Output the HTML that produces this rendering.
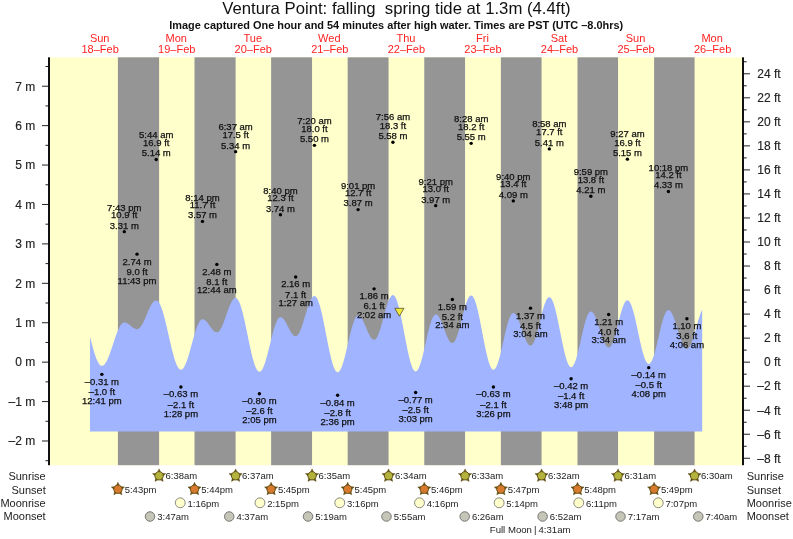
<!DOCTYPE html><html><head><meta charset="utf-8"><style>html,body{margin:0;padding:0;background:#fff;}svg{display:block;will-change:transform;}text{font-family:"Liberation Sans", sans-serif;}</style></head><body>
<svg width="793" height="539" viewBox="0 0 793 539">
<rect x="0" y="0" width="793" height="539" fill="#fff"/>
<text x="222.3" y="14.1" font-size="16.5" textLength="348.3" lengthAdjust="spacingAndGlyphs" fill="#111" xml:space="preserve">Ventura Point: falling  spring tide at 1.3m (4.4ft)</text>
<text x="169.2" y="28.7" font-size="10.3" font-weight="bold" textLength="454" lengthAdjust="spacingAndGlyphs" fill="#111">Image captured One hour and 54 minutes after high water. Times are PST (UTC –8.0hrs)</text>
<text transform="translate(99.67,41.5) scale(0.95,1)" font-size="11.6" text-anchor="middle" fill="#ff2222">Sun</text>
<text x="100.17" y="52.5" font-size="11" text-anchor="middle" fill="#ff2222">18–Feb</text>
<text transform="translate(176.22,41.5) scale(0.95,1)" font-size="11.6" text-anchor="middle" fill="#ff2222">Mon</text>
<text x="176.72" y="52.5" font-size="11" text-anchor="middle" fill="#ff2222">19–Feb</text>
<text transform="translate(252.78,41.5) scale(0.95,1)" font-size="11.6" text-anchor="middle" fill="#ff2222">Tue</text>
<text x="253.28" y="52.5" font-size="11" text-anchor="middle" fill="#ff2222">20–Feb</text>
<text transform="translate(329.33,41.5) scale(0.95,1)" font-size="11.6" text-anchor="middle" fill="#ff2222">Wed</text>
<text x="329.83" y="52.5" font-size="11" text-anchor="middle" fill="#ff2222">21–Feb</text>
<text transform="translate(405.89,41.5) scale(0.95,1)" font-size="11.6" text-anchor="middle" fill="#ff2222">Thu</text>
<text x="406.39" y="52.5" font-size="11" text-anchor="middle" fill="#ff2222">22–Feb</text>
<text transform="translate(482.44,41.5) scale(0.95,1)" font-size="11.6" text-anchor="middle" fill="#ff2222">Fri</text>
<text x="482.94" y="52.5" font-size="11" text-anchor="middle" fill="#ff2222">23–Feb</text>
<text transform="translate(559.00,41.5) scale(0.95,1)" font-size="11.6" text-anchor="middle" fill="#ff2222">Sat</text>
<text x="559.50" y="52.5" font-size="11" text-anchor="middle" fill="#ff2222">24–Feb</text>
<text transform="translate(635.55,41.5) scale(0.95,1)" font-size="11.6" text-anchor="middle" fill="#ff2222">Sun</text>
<text x="636.05" y="52.5" font-size="11" text-anchor="middle" fill="#ff2222">25–Feb</text>
<text transform="translate(712.11,41.5) scale(0.95,1)" font-size="11.6" text-anchor="middle" fill="#ff2222">Mon</text>
<text x="712.61" y="52.5" font-size="11" text-anchor="middle" fill="#ff2222">26–Feb</text>
<rect x="50" y="57.3" width="692" height="407.9" fill="#ffffcc"/>
<rect x="117.90" y="57.3" width="41.20" height="407.9" fill="#959595"/>
<rect x="194.51" y="57.3" width="41.10" height="407.9" fill="#959595"/>
<rect x="271.12" y="57.3" width="40.94" height="407.9" fill="#959595"/>
<rect x="347.67" y="57.3" width="40.88" height="407.9" fill="#959595"/>
<rect x="424.28" y="57.3" width="40.78" height="407.9" fill="#959595"/>
<rect x="500.89" y="57.3" width="40.67" height="407.9" fill="#959595"/>
<rect x="577.50" y="57.3" width="40.56" height="407.9" fill="#959595"/>
<rect x="654.11" y="57.3" width="40.46" height="407.9" fill="#959595"/>
<path d="M90.00,431.50L90.00,336.82L90.50,338.79L91.00,340.74L91.50,342.67L92.00,344.56L92.50,346.42L93.00,348.23L93.50,349.98L94.00,351.67L94.50,353.29L95.00,354.84L95.50,356.31L96.00,357.69L96.50,358.98L97.00,360.17L97.50,361.26L98.00,362.24L98.50,363.11L99.00,363.87L99.50,364.50L100.00,365.02L100.50,365.42L101.00,365.70L101.50,365.84L102.00,365.87L102.50,365.78L103.00,365.59L103.50,365.29L104.00,364.89L104.50,364.39L105.00,363.79L105.50,363.09L106.00,362.30L106.50,361.42L107.00,360.45L107.50,359.41L108.00,358.29L108.50,357.10L109.00,355.85L109.50,354.54L110.00,353.18L110.50,351.77L111.00,350.33L111.50,348.85L112.00,347.36L112.50,345.85L113.00,344.32L113.50,342.80L114.00,341.29L114.50,339.79L115.00,338.31L115.50,336.85L116.00,335.44L116.50,334.06L117.00,332.74L117.50,331.47L118.00,330.27L118.50,329.13L119.00,328.06L119.50,327.08L120.00,326.17L120.50,325.36L121.00,324.64L121.50,324.01L122.00,323.48L122.50,323.05L123.00,322.73L123.50,322.51L124.00,322.40L124.50,322.38L125.00,322.43L125.50,322.53L126.00,322.68L126.50,322.88L127.00,323.12L127.50,323.40L128.00,323.72L128.50,324.07L129.00,324.44L129.50,324.84L130.00,325.25L130.50,325.67L131.00,326.09L131.50,326.51L132.00,326.91L132.50,327.30L133.00,327.67L133.50,328.01L134.00,328.31L134.50,328.58L135.00,328.80L135.50,328.98L136.00,329.12L136.50,329.20L137.00,329.23L137.50,329.19L138.00,329.05L138.50,328.82L139.00,328.49L139.50,328.08L140.00,327.57L140.50,326.98L141.00,326.31L141.50,325.56L142.00,324.73L142.50,323.84L143.00,322.90L143.50,321.89L144.00,320.84L144.50,319.75L145.00,318.63L145.50,317.48L146.00,316.31L146.50,315.13L147.00,313.95L147.50,312.78L148.00,311.62L148.50,310.48L149.00,309.37L149.50,308.30L150.00,307.27L150.50,306.29L151.00,305.37L151.50,304.51L152.00,303.72L152.50,303.00L153.00,302.36L153.50,301.81L154.00,301.34L154.50,300.97L155.00,300.68L155.50,300.49L156.00,300.40L156.50,300.41L157.00,300.56L157.50,300.84L158.00,301.26L158.50,301.83L159.00,302.52L159.50,303.35L160.00,304.30L160.50,305.38L161.00,306.58L161.50,307.90L162.00,309.33L162.50,310.86L163.00,312.49L163.50,314.21L164.00,316.01L164.50,317.89L165.00,319.84L165.50,321.86L166.00,323.92L166.50,326.03L167.00,328.18L167.50,330.36L168.00,332.55L168.50,334.76L169.00,336.96L169.50,339.16L170.00,341.35L170.50,343.50L171.00,345.62L171.50,347.70L172.00,349.73L172.50,351.70L173.00,353.60L173.50,355.43L174.00,357.17L174.50,358.82L175.00,360.38L175.50,361.84L176.00,363.18L176.50,364.42L177.00,365.53L177.50,366.52L178.00,367.38L178.50,368.11L179.00,368.71L179.50,369.17L180.00,369.49L180.50,369.67L181.00,369.72L181.50,369.62L182.00,369.40L182.50,369.04L183.00,368.55L183.50,367.94L184.00,367.20L184.50,366.34L185.00,365.36L185.50,364.28L186.00,363.08L186.50,361.80L187.00,360.41L187.50,358.95L188.00,357.41L188.50,355.80L189.00,354.13L189.50,352.41L190.00,350.64L190.50,348.85L191.00,347.03L191.50,345.20L192.00,343.36L192.50,341.53L193.00,339.72L193.50,337.93L194.00,336.17L194.50,334.46L195.00,332.81L195.50,331.21L196.00,329.69L196.50,328.24L197.00,326.88L197.50,325.61L198.00,324.44L198.50,323.38L199.00,322.43L199.50,321.60L200.00,320.89L200.50,320.30L201.00,319.84L201.50,319.51L202.00,319.32L202.50,319.26L203.00,319.30L203.50,319.42L204.00,319.61L204.50,319.88L205.00,320.22L205.50,320.63L206.00,321.10L206.50,321.62L207.00,322.20L207.50,322.82L208.00,323.47L208.50,324.16L209.00,324.86L209.50,325.57L210.00,326.29L210.50,327.00L211.00,327.69L211.50,328.37L212.00,329.01L212.50,329.61L213.00,330.17L213.50,330.68L214.00,331.13L214.50,331.51L215.00,331.83L215.50,332.07L216.00,332.24L216.50,332.33L217.00,332.35L217.50,332.25L218.00,332.03L218.50,331.69L219.00,331.24L219.50,330.68L220.00,330.00L220.50,329.23L221.00,328.35L221.50,327.38L222.00,326.33L222.50,325.20L223.00,324.00L223.50,322.73L224.00,321.42L224.50,320.06L225.00,318.66L225.50,317.24L226.00,315.81L226.50,314.37L227.00,312.94L227.50,311.52L228.00,310.13L228.50,308.78L229.00,307.47L229.50,306.21L230.00,305.02L230.50,303.89L231.00,302.85L231.50,301.89L232.00,301.02L232.50,300.26L233.00,299.60L233.50,299.04L234.00,298.61L234.50,298.28L235.00,298.08L235.50,297.99L236.00,298.04L236.50,298.24L237.00,298.61L237.50,299.13L238.00,299.81L238.50,300.64L239.00,301.62L239.50,302.75L240.00,304.01L240.50,305.41L241.00,306.94L241.50,308.58L242.00,310.35L242.50,312.22L243.00,314.18L243.50,316.24L244.00,318.38L244.50,320.59L245.00,322.86L245.50,325.19L246.00,327.55L246.50,329.95L247.00,332.37L247.50,334.80L248.00,337.23L248.50,339.66L249.00,342.06L249.50,344.42L250.00,346.75L250.50,349.03L251.00,351.24L251.50,353.38L252.00,355.45L252.50,357.42L253.00,359.30L253.50,361.06L254.00,362.72L254.50,364.25L255.00,365.66L255.50,366.93L256.00,368.06L256.50,369.05L257.00,369.89L257.50,370.58L258.00,371.11L258.50,371.49L259.00,371.70L259.50,371.76L260.00,371.66L260.50,371.41L261.00,371.01L261.50,370.46L262.00,369.76L262.50,368.92L263.00,367.95L263.50,366.85L264.00,365.62L264.50,364.27L265.00,362.81L265.50,361.25L266.00,359.59L266.50,357.85L267.00,356.04L267.50,354.16L268.00,352.23L268.50,350.25L269.00,348.24L269.50,346.21L270.00,344.17L270.50,342.14L271.00,340.11L271.50,338.11L272.00,336.15L272.50,334.23L273.00,332.37L273.50,330.58L274.00,328.86L274.50,327.24L275.00,325.71L275.50,324.28L276.00,322.97L276.50,321.78L277.00,320.71L277.50,319.78L278.00,318.98L278.50,318.33L279.00,317.83L279.50,317.47L280.00,317.27L280.50,317.21L281.00,317.28L281.50,317.45L282.00,317.71L282.50,318.07L283.00,318.52L283.50,319.05L284.00,319.67L284.50,320.37L285.00,321.12L285.50,321.94L286.00,322.81L286.50,323.72L287.00,324.66L287.50,325.63L288.00,326.60L288.50,327.58L289.00,328.55L289.50,329.49L290.00,330.41L290.50,331.29L291.00,332.12L291.50,332.89L292.00,333.60L292.50,334.23L293.00,334.79L293.50,335.26L294.00,335.63L294.50,335.92L295.00,336.10L295.50,336.19L296.00,336.17L296.50,336.01L297.00,335.71L297.50,335.27L298.00,334.70L298.50,334.00L299.00,333.18L299.50,332.23L300.00,331.18L300.50,330.01L301.00,328.75L301.50,327.41L302.00,325.98L302.50,324.48L303.00,322.93L303.50,321.33L304.00,319.69L304.50,318.02L305.00,316.35L305.50,314.67L306.00,313.00L306.50,311.35L307.00,309.74L307.50,308.17L308.00,306.66L308.50,305.22L309.00,303.85L309.50,302.56L310.00,301.37L310.50,300.29L311.00,299.32L311.50,298.46L312.00,297.73L312.50,297.12L313.00,296.65L313.50,296.32L314.00,296.12L314.50,296.07L315.00,296.17L315.50,296.45L316.00,296.91L316.50,297.53L317.00,298.32L317.50,299.28L318.00,300.40L318.50,301.67L319.00,303.09L319.50,304.65L320.00,306.35L320.50,308.18L321.00,310.12L321.50,312.18L322.00,314.34L322.50,316.59L323.00,318.91L323.50,321.31L324.00,323.77L324.50,326.28L325.00,328.82L325.50,331.38L326.00,333.96L326.50,336.54L327.00,339.11L327.50,341.66L328.00,344.17L328.50,346.63L329.00,349.04L329.50,351.38L330.00,353.64L330.50,355.81L331.00,357.89L331.50,359.85L332.00,361.69L332.50,363.41L333.00,365.00L333.50,366.44L334.00,367.73L334.50,368.87L335.00,369.85L335.50,370.67L336.00,371.32L336.50,371.80L337.00,372.11L337.50,372.24L338.00,372.20L338.50,371.99L339.00,371.62L339.50,371.08L340.00,370.39L340.50,369.54L341.00,368.53L341.50,367.39L342.00,366.10L342.50,364.69L343.00,363.15L343.50,361.50L344.00,359.75L344.50,357.90L345.00,355.98L345.50,353.98L346.00,351.92L346.50,349.81L347.00,347.67L347.50,345.51L348.00,343.34L348.50,341.17L349.00,339.02L349.50,336.90L350.00,334.82L350.50,332.79L351.00,330.83L351.50,328.95L352.00,327.15L352.50,325.46L353.00,323.87L353.50,322.40L354.00,321.06L354.50,319.85L355.00,318.78L355.50,317.86L356.00,317.10L356.50,316.49L357.00,316.05L357.50,315.77L358.00,315.65L358.50,315.69L359.00,315.84L359.50,316.11L360.00,316.49L360.50,316.97L361.00,317.56L361.50,318.25L362.00,319.03L362.50,319.89L363.00,320.83L363.50,321.84L364.00,322.90L364.50,324.00L365.00,325.15L365.50,326.32L366.00,327.50L366.50,328.68L367.00,329.86L367.50,331.01L368.00,332.14L368.50,333.22L369.00,334.24L369.50,335.21L370.00,336.10L370.50,336.91L371.00,337.64L371.50,338.27L372.00,338.79L372.50,339.21L373.00,339.52L373.50,339.72L374.00,339.80L374.50,339.75L375.00,339.55L375.50,339.19L376.00,338.68L376.50,338.03L377.00,337.23L377.50,336.29L378.00,335.22L378.50,334.03L379.00,332.72L379.50,331.31L380.00,329.80L380.50,328.20L381.00,326.53L381.50,324.80L382.00,323.01L382.50,321.19L383.00,319.34L383.50,317.48L384.00,315.61L384.50,313.76L385.00,311.94L385.50,310.15L386.00,308.42L386.50,306.74L387.00,305.15L387.50,303.63L388.00,302.22L388.50,300.91L389.00,299.71L389.50,298.64L390.00,297.70L390.50,296.90L391.00,296.24L391.50,295.73L392.00,295.37L392.50,295.16L393.00,295.11L393.50,295.23L394.00,295.53L394.50,296.02L395.00,296.68L395.50,297.52L396.00,298.53L396.50,299.70L397.00,301.04L397.50,302.52L398.00,304.16L398.50,305.94L399.00,307.84L399.50,309.87L400.00,312.01L400.50,314.25L401.00,316.59L401.50,319.00L402.00,321.48L402.50,324.02L403.00,326.60L403.50,329.21L404.00,331.84L404.50,334.48L405.00,337.12L405.50,339.73L406.00,342.32L406.50,344.86L407.00,347.34L407.50,349.76L408.00,352.10L408.50,354.34L409.00,356.49L409.50,358.53L410.00,360.44L410.50,362.23L411.00,363.87L411.50,365.37L412.00,366.72L412.50,367.91L413.00,368.93L413.50,369.78L414.00,370.45L414.50,370.95L415.00,371.26L415.50,371.40L416.00,371.35L416.50,371.13L417.00,370.74L417.50,370.18L418.00,369.45L418.50,368.56L419.00,367.51L419.50,366.32L420.00,364.98L420.50,363.50L421.00,361.90L421.50,360.18L422.00,358.36L422.50,356.45L423.00,354.45L423.50,352.38L424.00,350.25L424.50,348.08L425.00,345.88L425.50,343.66L426.00,341.44L426.50,339.22L427.00,337.03L427.50,334.87L428.00,332.76L428.50,330.71L429.00,328.74L429.50,326.86L430.00,325.07L430.50,323.39L431.00,321.84L431.50,320.41L432.00,319.11L432.50,317.97L433.00,316.97L433.50,316.14L434.00,315.46L434.50,314.96L435.00,314.63L435.50,314.46L436.00,314.47L436.50,314.61L437.00,314.87L437.50,315.26L438.00,315.76L438.50,316.38L439.00,317.11L439.50,317.95L440.00,318.88L440.50,319.90L441.00,321.00L441.50,322.17L442.00,323.39L442.50,324.67L443.00,325.98L443.50,327.31L444.00,328.66L444.50,330.01L445.00,331.34L445.50,332.66L446.00,333.94L446.50,335.17L447.00,336.34L447.50,337.45L448.00,338.48L448.50,339.43L449.00,340.27L449.50,341.02L450.00,341.66L450.50,342.18L451.00,342.58L451.50,342.86L452.00,343.01L452.50,343.04L453.00,342.91L453.50,342.61L454.00,342.15L454.50,341.53L455.00,340.76L455.50,339.84L456.00,338.77L456.50,337.57L457.00,336.24L457.50,334.79L458.00,333.24L458.50,331.58L459.00,329.84L459.50,328.03L460.00,326.16L460.50,324.23L461.00,322.28L461.50,320.30L462.00,318.31L462.50,316.34L463.00,314.38L463.50,312.45L464.00,310.58L464.50,308.76L465.00,307.02L465.50,305.36L466.00,303.80L466.50,302.34L467.00,301.01L467.50,299.80L468.00,298.72L468.50,297.79L469.00,297.01L469.50,296.39L470.00,295.92L470.50,295.61L471.00,295.47L471.50,295.50L472.00,295.72L472.50,296.12L473.00,296.70L473.50,297.46L474.00,298.39L474.50,299.50L475.00,300.77L475.50,302.20L476.00,303.78L476.50,305.50L477.00,307.37L477.50,309.35L478.00,311.46L478.50,313.66L479.00,315.97L479.50,318.35L480.00,320.81L480.50,323.33L481.00,325.89L481.50,328.49L482.00,331.10L482.50,333.73L483.00,336.34L483.50,338.94L484.00,341.51L484.50,344.03L485.00,346.50L485.50,348.90L486.00,351.21L486.50,353.43L487.00,355.55L487.50,357.55L488.00,359.43L488.50,361.18L489.00,362.78L489.50,364.23L490.00,365.52L490.50,366.65L491.00,367.61L491.50,368.39L492.00,369.00L492.50,369.42L493.00,369.66L493.50,369.72L494.00,369.59L494.50,369.29L495.00,368.81L495.50,368.17L496.00,367.35L496.50,366.38L497.00,365.24L497.50,363.96L498.00,362.54L498.50,360.99L499.00,359.31L499.50,357.52L500.00,355.63L500.50,353.65L501.00,351.60L501.50,349.48L502.00,347.31L502.50,345.10L503.00,342.87L503.50,340.63L504.00,338.40L504.50,336.18L505.00,334.00L505.50,331.86L506.00,329.78L506.50,327.77L507.00,325.85L507.50,324.03L508.00,322.31L508.50,320.71L509.00,319.24L509.50,317.91L510.00,316.73L510.50,315.70L511.00,314.82L511.50,314.12L512.00,313.58L512.50,313.22L513.00,313.03L513.50,313.02L514.00,313.15L514.50,313.41L515.00,313.81L515.50,314.33L516.00,314.98L516.50,315.75L517.00,316.63L517.50,317.62L518.00,318.70L518.50,319.87L519.00,321.13L519.50,322.45L520.00,323.82L520.50,325.25L521.00,326.70L521.50,328.18L522.00,329.67L522.50,331.16L523.00,332.63L523.50,334.08L524.00,335.48L524.50,336.83L525.00,338.13L525.50,339.34L526.00,340.48L526.50,341.52L527.00,342.47L527.50,343.30L528.00,344.02L528.50,344.61L529.00,345.08L529.50,345.42L530.00,345.62L530.50,345.69L531.00,345.61L531.50,345.35L532.00,344.94L532.50,344.35L533.00,343.61L533.50,342.71L534.00,341.67L534.50,340.48L535.00,339.17L535.50,337.72L536.00,336.17L536.50,334.51L537.00,332.76L537.50,330.93L538.00,329.04L538.50,327.09L539.00,325.10L539.50,323.09L540.00,321.07L540.50,319.04L541.00,317.04L541.50,315.06L542.00,313.13L542.50,311.26L543.00,309.46L543.50,307.74L544.00,306.11L544.50,304.60L545.00,303.20L545.50,301.92L546.00,300.79L546.50,299.79L547.00,298.95L547.50,298.26L548.00,297.74L548.50,297.38L549.00,297.18L549.50,297.16L550.00,297.31L550.50,297.65L551.00,298.16L551.50,298.86L552.00,299.72L552.50,300.75L553.00,301.95L553.50,303.30L554.00,304.81L554.50,306.45L555.00,308.23L555.50,310.13L556.00,312.15L556.50,314.27L557.00,316.49L557.50,318.78L558.00,321.15L558.50,323.57L559.00,326.04L559.50,328.54L560.00,331.05L560.50,333.58L561.00,336.09L561.50,338.59L562.00,341.05L562.50,343.47L563.00,345.83L563.50,348.11L564.00,350.32L564.50,352.43L565.00,354.43L565.50,356.32L566.00,358.08L566.50,359.71L567.00,361.20L567.50,362.54L568.00,363.71L568.50,364.73L569.00,365.57L569.50,366.25L570.00,366.74L570.50,367.06L571.00,367.19L571.50,367.15L572.00,366.92L572.50,366.53L573.00,365.96L573.50,365.22L574.00,364.32L574.50,363.26L575.00,362.05L575.50,360.70L576.00,359.21L576.50,357.59L577.00,355.86L577.50,354.03L578.00,352.10L578.50,350.09L579.00,348.02L579.50,345.89L580.00,343.71L580.50,341.51L581.00,339.30L581.50,337.09L582.00,334.89L582.50,332.72L583.00,330.59L583.50,328.52L584.00,326.52L584.50,324.60L585.00,322.77L585.50,321.05L586.00,319.44L586.50,317.96L587.00,316.62L587.50,315.42L588.00,314.37L588.50,313.48L589.00,312.76L589.50,312.20L590.00,311.82L590.50,311.61L591.00,311.57L591.50,311.69L592.00,311.94L592.50,312.33L593.00,312.85L593.50,313.51L594.00,314.29L594.50,315.19L595.00,316.20L595.50,317.31L596.00,318.52L596.50,319.82L597.00,321.19L597.50,322.63L598.00,324.12L598.50,325.65L599.00,327.22L599.50,328.80L600.00,330.39L600.50,331.97L601.00,333.53L601.50,335.07L602.00,336.56L602.50,338.00L603.00,339.37L603.50,340.66L604.00,341.87L604.50,342.99L605.00,344.00L605.50,344.89L606.00,345.67L606.50,346.33L607.00,346.85L607.50,347.24L608.00,347.49L608.50,347.60L609.00,347.57L609.50,347.37L610.00,347.01L610.50,346.49L611.00,345.81L611.50,344.97L612.00,343.99L612.50,342.87L613.00,341.62L613.50,340.24L614.00,338.75L614.50,337.15L615.00,335.46L615.50,333.69L616.00,331.86L616.50,329.96L617.00,328.03L617.50,326.06L618.00,324.09L618.50,322.11L619.00,320.14L619.50,318.20L620.00,316.30L620.50,314.45L621.00,312.67L621.50,310.97L622.00,309.36L622.50,307.86L623.00,306.46L623.50,305.19L624.00,304.05L624.50,303.04L625.00,302.19L625.50,301.48L626.00,300.94L626.50,300.55L627.00,300.33L627.50,300.27L628.00,300.39L628.50,300.67L629.00,301.13L629.50,301.75L630.00,302.54L630.50,303.49L631.00,304.59L631.50,305.84L632.00,307.24L632.50,308.77L633.00,310.42L633.50,312.20L634.00,314.08L634.50,316.06L635.00,318.12L635.50,320.26L636.00,322.47L636.50,324.72L637.00,327.02L637.50,329.34L638.00,331.68L638.50,334.02L639.00,336.35L639.50,338.66L640.00,340.93L640.50,343.15L641.00,345.31L641.50,347.40L642.00,349.41L642.50,351.32L643.00,353.13L643.50,354.82L644.00,356.39L644.50,357.83L645.00,359.13L645.50,360.28L646.00,361.28L646.50,362.12L647.00,362.79L647.50,363.30L648.00,363.64L648.50,363.81L649.00,363.81L649.50,363.63L650.00,363.29L650.50,362.78L651.00,362.10L651.50,361.26L652.00,360.27L652.50,359.13L653.00,357.85L653.50,356.43L654.00,354.90L654.50,353.24L655.00,351.49L655.50,349.64L656.00,347.71L656.50,345.71L657.00,343.66L657.50,341.56L658.00,339.44L658.50,337.29L659.00,335.15L659.50,333.02L660.00,330.91L660.50,328.85L661.00,326.83L661.50,324.88L662.00,323.01L662.50,321.22L663.00,319.54L663.50,317.96L664.00,316.51L664.50,315.19L665.00,314.01L665.50,312.97L666.00,312.09L666.50,311.36L667.00,310.80L667.50,310.41L668.00,310.18L668.50,310.13L669.00,310.22L669.50,310.46L670.00,310.83L670.50,311.33L671.00,311.97L671.50,312.74L672.00,313.62L672.50,314.62L673.00,315.73L673.50,316.93L674.00,318.23L674.50,319.61L675.00,321.06L675.50,322.57L676.00,324.13L676.50,325.73L677.00,327.36L677.50,329.00L678.00,330.65L678.50,332.29L679.00,333.91L679.50,335.50L680.00,337.04L680.50,338.53L681.00,339.96L681.50,341.31L682.00,342.57L682.50,343.74L683.00,344.81L683.50,345.77L684.00,346.61L684.50,347.33L685.00,347.92L685.50,348.38L686.00,348.70L686.50,348.89L687.00,348.93L687.50,348.83L688.00,348.57L688.50,348.17L689.00,347.61L689.50,346.92L690.00,346.09L690.50,345.12L691.00,344.03L691.50,342.83L692.00,341.51L692.50,340.10L693.00,338.60L693.50,337.02L694.00,335.37L694.50,333.67L695.00,331.93L695.50,330.15L696.00,328.36L696.50,326.57L697.00,324.78L697.50,323.02L698.00,321.29L698.50,319.60L699.00,317.98L699.50,316.43L700.00,314.95L700.50,313.57L701.00,312.30L701.50,311.13L702.00,310.09L702.20,309.70L702.20,431.50Z" fill="#a0b4ff"/>
<rect x="48" y="57.3" width="2" height="407.9" fill="#111"/>
<rect x="742" y="57.3" width="2" height="407.9" fill="#111"/>
<rect x="45.5" y="66.00" width="2.5" height="1" fill="#222"/>
<rect x="42" y="85.71" width="6" height="1" fill="#222"/>
<text x="35.3" y="90.51" font-size="12" text-anchor="end" fill="#222" stroke="#222" stroke-width="0.15">7 m</text>
<rect x="45.5" y="105.42" width="2.5" height="1" fill="#222"/>
<rect x="42" y="125.13" width="6" height="1" fill="#222"/>
<text x="35.3" y="129.93" font-size="12" text-anchor="end" fill="#222" stroke="#222" stroke-width="0.15">6 m</text>
<rect x="45.5" y="144.84" width="2.5" height="1" fill="#222"/>
<rect x="42" y="164.55" width="6" height="1" fill="#222"/>
<text x="35.3" y="169.35" font-size="12" text-anchor="end" fill="#222" stroke="#222" stroke-width="0.15">5 m</text>
<rect x="45.5" y="184.26" width="2.5" height="1" fill="#222"/>
<rect x="42" y="203.97" width="6" height="1" fill="#222"/>
<text x="35.3" y="208.77" font-size="12" text-anchor="end" fill="#222" stroke="#222" stroke-width="0.15">4 m</text>
<rect x="45.5" y="223.68" width="2.5" height="1" fill="#222"/>
<rect x="42" y="243.39" width="6" height="1" fill="#222"/>
<text x="35.3" y="248.19" font-size="12" text-anchor="end" fill="#222" stroke="#222" stroke-width="0.15">3 m</text>
<rect x="45.5" y="263.10" width="2.5" height="1" fill="#222"/>
<rect x="42" y="282.81" width="6" height="1" fill="#222"/>
<text x="35.3" y="287.61" font-size="12" text-anchor="end" fill="#222" stroke="#222" stroke-width="0.15">2 m</text>
<rect x="45.5" y="302.52" width="2.5" height="1" fill="#222"/>
<rect x="42" y="322.23" width="6" height="1" fill="#222"/>
<text x="35.3" y="327.03" font-size="12" text-anchor="end" fill="#222" stroke="#222" stroke-width="0.15">1 m</text>
<rect x="45.5" y="341.94" width="2.5" height="1" fill="#222"/>
<rect x="42" y="361.65" width="6" height="1" fill="#222"/>
<text x="35.3" y="366.45" font-size="12" text-anchor="end" fill="#222" stroke="#222" stroke-width="0.15">0 m</text>
<rect x="45.5" y="381.36" width="2.5" height="1" fill="#222"/>
<rect x="42" y="401.07" width="6" height="1" fill="#222"/>
<text x="35.3" y="405.87" font-size="12" text-anchor="end" fill="#222" stroke="#222" stroke-width="0.15">–1 m</text>
<rect x="45.5" y="420.78" width="2.5" height="1" fill="#222"/>
<rect x="42" y="440.49" width="6" height="1" fill="#222"/>
<text x="35.3" y="445.29" font-size="12" text-anchor="end" fill="#222" stroke="#222" stroke-width="0.15">–2 m</text>
<rect x="45.5" y="460.20" width="2.5" height="1" fill="#222"/>
<rect x="744" y="457.77" width="6" height="1" fill="#222"/>
<text x="780.7" y="462.57" font-size="12" text-anchor="end" fill="#222" stroke="#222" stroke-width="0.15">–8 ft</text>
<rect x="744" y="445.76" width="2.7" height="1" fill="#222"/>
<rect x="744" y="433.74" width="6" height="1" fill="#222"/>
<text x="780.7" y="438.54" font-size="12" text-anchor="end" fill="#222" stroke="#222" stroke-width="0.15">–6 ft</text>
<rect x="744" y="421.73" width="2.7" height="1" fill="#222"/>
<rect x="744" y="409.71" width="6" height="1" fill="#222"/>
<text x="780.7" y="414.51" font-size="12" text-anchor="end" fill="#222" stroke="#222" stroke-width="0.15">–4 ft</text>
<rect x="744" y="397.70" width="2.7" height="1" fill="#222"/>
<rect x="744" y="385.68" width="6" height="1" fill="#222"/>
<text x="780.7" y="390.48" font-size="12" text-anchor="end" fill="#222" stroke="#222" stroke-width="0.15">–2 ft</text>
<rect x="744" y="373.67" width="2.7" height="1" fill="#222"/>
<rect x="744" y="361.65" width="6" height="1" fill="#222"/>
<text x="780.7" y="366.45" font-size="12" text-anchor="end" fill="#222" stroke="#222" stroke-width="0.15">0 ft</text>
<rect x="744" y="349.63" width="2.7" height="1" fill="#222"/>
<rect x="744" y="337.62" width="6" height="1" fill="#222"/>
<text x="780.7" y="342.42" font-size="12" text-anchor="end" fill="#222" stroke="#222" stroke-width="0.15">2 ft</text>
<rect x="744" y="325.60" width="2.7" height="1" fill="#222"/>
<rect x="744" y="313.59" width="6" height="1" fill="#222"/>
<text x="780.7" y="318.39" font-size="12" text-anchor="end" fill="#222" stroke="#222" stroke-width="0.15">4 ft</text>
<rect x="744" y="301.57" width="2.7" height="1" fill="#222"/>
<rect x="744" y="289.56" width="6" height="1" fill="#222"/>
<text x="780.7" y="294.36" font-size="12" text-anchor="end" fill="#222" stroke="#222" stroke-width="0.15">6 ft</text>
<rect x="744" y="277.54" width="2.7" height="1" fill="#222"/>
<rect x="744" y="265.53" width="6" height="1" fill="#222"/>
<text x="780.7" y="270.33" font-size="12" text-anchor="end" fill="#222" stroke="#222" stroke-width="0.15">8 ft</text>
<rect x="744" y="253.51" width="2.7" height="1" fill="#222"/>
<rect x="744" y="241.50" width="6" height="1" fill="#222"/>
<text x="780.7" y="246.30" font-size="12" text-anchor="end" fill="#222" stroke="#222" stroke-width="0.15">10 ft</text>
<rect x="744" y="229.48" width="2.7" height="1" fill="#222"/>
<rect x="744" y="217.47" width="6" height="1" fill="#222"/>
<text x="780.7" y="222.27" font-size="12" text-anchor="end" fill="#222" stroke="#222" stroke-width="0.15">12 ft</text>
<rect x="744" y="205.45" width="2.7" height="1" fill="#222"/>
<rect x="744" y="193.43" width="6" height="1" fill="#222"/>
<text x="780.7" y="198.23" font-size="12" text-anchor="end" fill="#222" stroke="#222" stroke-width="0.15">14 ft</text>
<rect x="744" y="181.42" width="2.7" height="1" fill="#222"/>
<rect x="744" y="169.40" width="6" height="1" fill="#222"/>
<text x="780.7" y="174.20" font-size="12" text-anchor="end" fill="#222" stroke="#222" stroke-width="0.15">16 ft</text>
<rect x="744" y="157.39" width="2.7" height="1" fill="#222"/>
<rect x="744" y="145.37" width="6" height="1" fill="#222"/>
<text x="780.7" y="150.17" font-size="12" text-anchor="end" fill="#222" stroke="#222" stroke-width="0.15">18 ft</text>
<rect x="744" y="133.36" width="2.7" height="1" fill="#222"/>
<rect x="744" y="121.34" width="6" height="1" fill="#222"/>
<text x="780.7" y="126.14" font-size="12" text-anchor="end" fill="#222" stroke="#222" stroke-width="0.15">20 ft</text>
<rect x="744" y="109.33" width="2.7" height="1" fill="#222"/>
<rect x="744" y="97.31" width="6" height="1" fill="#222"/>
<text x="780.7" y="102.11" font-size="12" text-anchor="end" fill="#222" stroke="#222" stroke-width="0.15">22 ft</text>
<rect x="744" y="85.30" width="2.7" height="1" fill="#222"/>
<rect x="744" y="73.28" width="6" height="1" fill="#222"/>
<text x="780.7" y="78.08" font-size="12" text-anchor="end" fill="#222" stroke="#222" stroke-width="0.15">24 ft</text>
<rect x="744" y="61.27" width="2.7" height="1" fill="#222"/>
<circle cx="101.85" cy="374.37" r="1.7" fill="#000"/>
<text x="101.85" y="384.77" font-size="9.5" text-anchor="middle" fill="#111111" stroke="#111111" stroke-width="0.25">–0.31 m</text>
<text x="101.85" y="394.97" font-size="9.5" text-anchor="middle" fill="#111111" stroke="#111111" stroke-width="0.25">–1.0 ft</text>
<text x="101.85" y="404.07" font-size="9.5" text-anchor="middle" fill="#111111" stroke="#111111" stroke-width="0.25">12:41 pm</text>
<circle cx="124.28" cy="231.67" r="1.7" fill="#000"/>
<text x="124.28" y="210.87" font-size="9.5" text-anchor="middle" fill="#111111" stroke="#111111" stroke-width="0.25">7:43 pm</text>
<text x="124.28" y="218.07" font-size="9.5" text-anchor="middle" fill="#111111" stroke="#111111" stroke-width="0.25">10.9 ft</text>
<text x="124.28" y="228.57" font-size="9.5" text-anchor="middle" fill="#111111" stroke="#111111" stroke-width="0.25">3.31 m</text>
<circle cx="137.04" cy="254.14" r="1.7" fill="#000"/>
<text x="137.04" y="264.54" font-size="9.5" text-anchor="middle" fill="#111111" stroke="#111111" stroke-width="0.25">2.74 m</text>
<text x="137.04" y="274.74" font-size="9.5" text-anchor="middle" fill="#111111" stroke="#111111" stroke-width="0.25">9.0 ft</text>
<text x="137.04" y="283.84" font-size="9.5" text-anchor="middle" fill="#111111" stroke="#111111" stroke-width="0.25">11:43 pm</text>
<circle cx="156.23" cy="159.53" r="1.7" fill="#000"/>
<text x="156.23" y="137.73" font-size="9.5" text-anchor="middle" fill="#111111" stroke="#111111" stroke-width="0.25">5:44 am</text>
<text x="156.23" y="145.93" font-size="9.5" text-anchor="middle" fill="#111111" stroke="#111111" stroke-width="0.25">16.9 ft</text>
<text x="156.23" y="156.43" font-size="9.5" text-anchor="middle" fill="#111111" stroke="#111111" stroke-width="0.25">5.14 m</text>
<circle cx="180.90" cy="386.98" r="1.7" fill="#000"/>
<text x="180.90" y="397.38" font-size="9.5" text-anchor="middle" fill="#111111" stroke="#111111" stroke-width="0.25">–0.63 m</text>
<text x="180.90" y="407.58" font-size="9.5" text-anchor="middle" fill="#111111" stroke="#111111" stroke-width="0.25">–2.1 ft</text>
<text x="180.90" y="416.68" font-size="9.5" text-anchor="middle" fill="#111111" stroke="#111111" stroke-width="0.25">1:28 pm</text>
<circle cx="202.49" cy="221.42" r="1.7" fill="#000"/>
<text x="202.49" y="200.62" font-size="9.5" text-anchor="middle" fill="#111111" stroke="#111111" stroke-width="0.25">8:14 pm</text>
<text x="202.49" y="207.82" font-size="9.5" text-anchor="middle" fill="#111111" stroke="#111111" stroke-width="0.25">11.7 ft</text>
<text x="202.49" y="218.32" font-size="9.5" text-anchor="middle" fill="#111111" stroke="#111111" stroke-width="0.25">3.57 m</text>
<circle cx="216.84" cy="264.39" r="1.7" fill="#000"/>
<text x="216.84" y="274.79" font-size="9.5" text-anchor="middle" fill="#111111" stroke="#111111" stroke-width="0.25">2.48 m</text>
<text x="216.84" y="284.99" font-size="9.5" text-anchor="middle" fill="#111111" stroke="#111111" stroke-width="0.25">8.1 ft</text>
<text x="216.84" y="293.19" font-size="9.5" text-anchor="middle" fill="#111111" stroke="#111111" stroke-width="0.25">12:44 am</text>
<circle cx="235.61" cy="151.65" r="1.7" fill="#000"/>
<text x="235.61" y="129.85" font-size="9.5" text-anchor="middle" fill="#111111" stroke="#111111" stroke-width="0.25">6:37 am</text>
<text x="235.61" y="138.05" font-size="9.5" text-anchor="middle" fill="#111111" stroke="#111111" stroke-width="0.25">17.5 ft</text>
<text x="235.61" y="148.55" font-size="9.5" text-anchor="middle" fill="#111111" stroke="#111111" stroke-width="0.25">5.34 m</text>
<circle cx="259.42" cy="393.69" r="1.7" fill="#000"/>
<text x="259.42" y="404.09" font-size="9.5" text-anchor="middle" fill="#111111" stroke="#111111" stroke-width="0.25">–0.80 m</text>
<text x="259.42" y="414.29" font-size="9.5" text-anchor="middle" fill="#111111" stroke="#111111" stroke-width="0.25">–2.6 ft</text>
<text x="259.42" y="423.39" font-size="9.5" text-anchor="middle" fill="#111111" stroke="#111111" stroke-width="0.25">2:05 pm</text>
<circle cx="280.42" cy="214.72" r="1.7" fill="#000"/>
<text x="280.42" y="193.92" font-size="9.5" text-anchor="middle" fill="#111111" stroke="#111111" stroke-width="0.25">8:40 pm</text>
<text x="280.42" y="201.12" font-size="9.5" text-anchor="middle" fill="#111111" stroke="#111111" stroke-width="0.25">12.3 ft</text>
<text x="280.42" y="211.62" font-size="9.5" text-anchor="middle" fill="#111111" stroke="#111111" stroke-width="0.25">3.74 m</text>
<circle cx="295.68" cy="277.00" r="1.7" fill="#000"/>
<text x="295.68" y="287.40" font-size="9.5" text-anchor="middle" fill="#111111" stroke="#111111" stroke-width="0.25">2.16 m</text>
<text x="295.68" y="297.60" font-size="9.5" text-anchor="middle" fill="#111111" stroke="#111111" stroke-width="0.25">7.1 ft</text>
<text x="295.68" y="305.80" font-size="9.5" text-anchor="middle" fill="#111111" stroke="#111111" stroke-width="0.25">1:27 am</text>
<circle cx="314.45" cy="145.34" r="1.7" fill="#000"/>
<text x="314.45" y="123.54" font-size="9.5" text-anchor="middle" fill="#111111" stroke="#111111" stroke-width="0.25">7:20 am</text>
<text x="314.45" y="131.74" font-size="9.5" text-anchor="middle" fill="#111111" stroke="#111111" stroke-width="0.25">18.0 ft</text>
<text x="314.45" y="142.24" font-size="9.5" text-anchor="middle" fill="#111111" stroke="#111111" stroke-width="0.25">5.50 m</text>
<circle cx="337.63" cy="395.26" r="1.7" fill="#000"/>
<text x="337.63" y="405.66" font-size="9.5" text-anchor="middle" fill="#111111" stroke="#111111" stroke-width="0.25">–0.84 m</text>
<text x="337.63" y="415.86" font-size="9.5" text-anchor="middle" fill="#111111" stroke="#111111" stroke-width="0.25">–2.8 ft</text>
<text x="337.63" y="424.96" font-size="9.5" text-anchor="middle" fill="#111111" stroke="#111111" stroke-width="0.25">2:36 pm</text>
<circle cx="358.09" cy="209.59" r="1.7" fill="#000"/>
<text x="358.09" y="188.79" font-size="9.5" text-anchor="middle" fill="#111111" stroke="#111111" stroke-width="0.25">9:01 pm</text>
<text x="358.09" y="195.99" font-size="9.5" text-anchor="middle" fill="#111111" stroke="#111111" stroke-width="0.25">12.7 ft</text>
<text x="358.09" y="206.49" font-size="9.5" text-anchor="middle" fill="#111111" stroke="#111111" stroke-width="0.25">3.87 m</text>
<circle cx="374.10" cy="288.83" r="1.7" fill="#000"/>
<text x="374.10" y="299.23" font-size="9.5" text-anchor="middle" fill="#111111" stroke="#111111" stroke-width="0.25">1.86 m</text>
<text x="374.10" y="309.43" font-size="9.5" text-anchor="middle" fill="#111111" stroke="#111111" stroke-width="0.25">6.1 ft</text>
<text x="374.10" y="317.63" font-size="9.5" text-anchor="middle" fill="#111111" stroke="#111111" stroke-width="0.25">2:02 am</text>
<circle cx="392.92" cy="142.19" r="1.7" fill="#000"/>
<text x="392.92" y="120.39" font-size="9.5" text-anchor="middle" fill="#111111" stroke="#111111" stroke-width="0.25">7:56 am</text>
<text x="392.92" y="128.59" font-size="9.5" text-anchor="middle" fill="#111111" stroke="#111111" stroke-width="0.25">18.3 ft</text>
<text x="392.92" y="139.09" font-size="9.5" text-anchor="middle" fill="#111111" stroke="#111111" stroke-width="0.25">5.58 m</text>
<circle cx="415.62" cy="392.50" r="1.7" fill="#000"/>
<text x="415.62" y="402.90" font-size="9.5" text-anchor="middle" fill="#111111" stroke="#111111" stroke-width="0.25">–0.77 m</text>
<text x="415.62" y="413.10" font-size="9.5" text-anchor="middle" fill="#111111" stroke="#111111" stroke-width="0.25">–2.5 ft</text>
<text x="415.62" y="422.20" font-size="9.5" text-anchor="middle" fill="#111111" stroke="#111111" stroke-width="0.25">3:03 pm</text>
<circle cx="435.71" cy="205.65" r="1.7" fill="#000"/>
<text x="435.71" y="184.85" font-size="9.5" text-anchor="middle" fill="#111111" stroke="#111111" stroke-width="0.25">9:21 pm</text>
<text x="435.71" y="192.05" font-size="9.5" text-anchor="middle" fill="#111111" stroke="#111111" stroke-width="0.25">13.0 ft</text>
<text x="435.71" y="202.55" font-size="9.5" text-anchor="middle" fill="#111111" stroke="#111111" stroke-width="0.25">3.97 m</text>
<circle cx="452.35" cy="299.47" r="1.7" fill="#000"/>
<text x="452.35" y="309.87" font-size="9.5" text-anchor="middle" fill="#111111" stroke="#111111" stroke-width="0.25">1.59 m</text>
<text x="452.35" y="320.07" font-size="9.5" text-anchor="middle" fill="#111111" stroke="#111111" stroke-width="0.25">5.2 ft</text>
<text x="452.35" y="328.27" font-size="9.5" text-anchor="middle" fill="#111111" stroke="#111111" stroke-width="0.25">2:34 am</text>
<circle cx="471.17" cy="143.37" r="1.7" fill="#000"/>
<text x="471.17" y="121.57" font-size="9.5" text-anchor="middle" fill="#111111" stroke="#111111" stroke-width="0.25">8:28 am</text>
<text x="471.17" y="129.77" font-size="9.5" text-anchor="middle" fill="#111111" stroke="#111111" stroke-width="0.25">18.2 ft</text>
<text x="471.17" y="140.27" font-size="9.5" text-anchor="middle" fill="#111111" stroke="#111111" stroke-width="0.25">5.55 m</text>
<circle cx="493.40" cy="386.98" r="1.7" fill="#000"/>
<text x="493.40" y="397.38" font-size="9.5" text-anchor="middle" fill="#111111" stroke="#111111" stroke-width="0.25">–0.63 m</text>
<text x="493.40" y="407.58" font-size="9.5" text-anchor="middle" fill="#111111" stroke="#111111" stroke-width="0.25">–2.1 ft</text>
<text x="493.40" y="416.68" font-size="9.5" text-anchor="middle" fill="#111111" stroke="#111111" stroke-width="0.25">3:26 pm</text>
<circle cx="513.28" cy="200.92" r="1.7" fill="#000"/>
<text x="513.28" y="180.12" font-size="9.5" text-anchor="middle" fill="#111111" stroke="#111111" stroke-width="0.25">9:40 pm</text>
<text x="513.28" y="187.32" font-size="9.5" text-anchor="middle" fill="#111111" stroke="#111111" stroke-width="0.25">13.4 ft</text>
<text x="513.28" y="197.82" font-size="9.5" text-anchor="middle" fill="#111111" stroke="#111111" stroke-width="0.25">4.09 m</text>
<circle cx="530.50" cy="308.14" r="1.7" fill="#000"/>
<text x="530.50" y="318.54" font-size="9.5" text-anchor="middle" fill="#111111" stroke="#111111" stroke-width="0.25">1.37 m</text>
<text x="530.50" y="328.74" font-size="9.5" text-anchor="middle" fill="#111111" stroke="#111111" stroke-width="0.25">4.5 ft</text>
<text x="530.50" y="336.94" font-size="9.5" text-anchor="middle" fill="#111111" stroke="#111111" stroke-width="0.25">3:04 am</text>
<circle cx="549.32" cy="148.89" r="1.7" fill="#000"/>
<text x="549.32" y="127.09" font-size="9.5" text-anchor="middle" fill="#111111" stroke="#111111" stroke-width="0.25">8:58 am</text>
<text x="549.32" y="135.29" font-size="9.5" text-anchor="middle" fill="#111111" stroke="#111111" stroke-width="0.25">17.7 ft</text>
<text x="549.32" y="145.79" font-size="9.5" text-anchor="middle" fill="#111111" stroke="#111111" stroke-width="0.25">5.41 m</text>
<circle cx="571.12" cy="378.71" r="1.7" fill="#000"/>
<text x="571.12" y="389.11" font-size="9.5" text-anchor="middle" fill="#111111" stroke="#111111" stroke-width="0.25">–0.42 m</text>
<text x="571.12" y="399.31" font-size="9.5" text-anchor="middle" fill="#111111" stroke="#111111" stroke-width="0.25">–1.4 ft</text>
<text x="571.12" y="408.41" font-size="9.5" text-anchor="middle" fill="#111111" stroke="#111111" stroke-width="0.25">3:48 pm</text>
<circle cx="590.84" cy="196.19" r="1.7" fill="#000"/>
<text x="590.84" y="175.39" font-size="9.5" text-anchor="middle" fill="#111111" stroke="#111111" stroke-width="0.25">9:59 pm</text>
<text x="590.84" y="182.59" font-size="9.5" text-anchor="middle" fill="#111111" stroke="#111111" stroke-width="0.25">13.8 ft</text>
<text x="590.84" y="193.09" font-size="9.5" text-anchor="middle" fill="#111111" stroke="#111111" stroke-width="0.25">4.21 m</text>
<circle cx="608.65" cy="314.45" r="1.7" fill="#000"/>
<text x="608.65" y="324.85" font-size="9.5" text-anchor="middle" fill="#111111" stroke="#111111" stroke-width="0.25">1.21 m</text>
<text x="608.65" y="335.05" font-size="9.5" text-anchor="middle" fill="#111111" stroke="#111111" stroke-width="0.25">4.0 ft</text>
<text x="608.65" y="343.25" font-size="9.5" text-anchor="middle" fill="#111111" stroke="#111111" stroke-width="0.25">3:34 am</text>
<circle cx="627.42" cy="159.14" r="1.7" fill="#000"/>
<text x="627.42" y="137.34" font-size="9.5" text-anchor="middle" fill="#111111" stroke="#111111" stroke-width="0.25">9:27 am</text>
<text x="627.42" y="145.54" font-size="9.5" text-anchor="middle" fill="#111111" stroke="#111111" stroke-width="0.25">16.9 ft</text>
<text x="627.42" y="156.04" font-size="9.5" text-anchor="middle" fill="#111111" stroke="#111111" stroke-width="0.25">5.15 m</text>
<circle cx="648.74" cy="367.67" r="1.7" fill="#000"/>
<text x="648.74" y="378.07" font-size="9.5" text-anchor="middle" fill="#111111" stroke="#111111" stroke-width="0.25">–0.14 m</text>
<text x="648.74" y="388.27" font-size="9.5" text-anchor="middle" fill="#111111" stroke="#111111" stroke-width="0.25">–0.5 ft</text>
<text x="648.74" y="397.37" font-size="9.5" text-anchor="middle" fill="#111111" stroke="#111111" stroke-width="0.25">4:08 pm</text>
<circle cx="668.41" cy="191.46" r="1.7" fill="#000"/>
<text x="668.41" y="170.66" font-size="9.5" text-anchor="middle" fill="#111111" stroke="#111111" stroke-width="0.25">10:18 pm</text>
<text x="668.41" y="177.86" font-size="9.5" text-anchor="middle" fill="#111111" stroke="#111111" stroke-width="0.25">14.2 ft</text>
<text x="668.41" y="188.36" font-size="9.5" text-anchor="middle" fill="#111111" stroke="#111111" stroke-width="0.25">4.33 m</text>
<circle cx="686.91" cy="318.79" r="1.7" fill="#000"/>
<text x="686.91" y="329.19" font-size="9.5" text-anchor="middle" fill="#111111" stroke="#111111" stroke-width="0.25">1.10 m</text>
<text x="686.91" y="339.39" font-size="9.5" text-anchor="middle" fill="#111111" stroke="#111111" stroke-width="0.25">3.6 ft</text>
<text x="686.91" y="347.59" font-size="9.5" text-anchor="middle" fill="#111111" stroke="#111111" stroke-width="0.25">4:06 am</text>
<path d="M394.78,308.30 L403.98,308.30 L399.38,316.20 Z" fill="#eceb3c" stroke="#4a3a1a" stroke-width="0.7"/>
<text x="45.7" y="480.10" font-size="11" text-anchor="end" fill="#222">Sunrise</text>
<text x="746.7" y="480.10" font-size="11" fill="#222">Sunrise</text>
<text x="45.7" y="494.10" font-size="11" text-anchor="end" fill="#222">Sunset</text>
<text x="746.7" y="494.10" font-size="11" fill="#222">Sunset</text>
<text x="45.7" y="506.90" font-size="11" text-anchor="end" fill="#222">Moonrise</text>
<text x="746.7" y="506.90" font-size="11" fill="#222">Moonrise</text>
<text x="45.7" y="520.40" font-size="11" text-anchor="end" fill="#222">Moonset</text>
<text x="746.7" y="520.40" font-size="11" fill="#222">Moonset</text>
<polygon points="159.10,468.90 160.99,473.21 165.67,473.67 162.15,476.79 163.16,481.38 159.10,479.00 155.05,481.38 156.06,476.79 152.54,473.67 157.22,473.21" fill="#5e4c12" stroke="#5e4c12" stroke-width="0.5" stroke-linejoin="miter"/><circle cx="159.10" cy="475.80" r="4.20" fill="#b2b23c" stroke="#5e4c12" stroke-width="0.9"/>
<text x="165.50" y="479.10" font-size="9.5" fill="#222">6:38am</text>
<polygon points="235.61,468.90 237.49,473.21 242.17,473.67 238.65,476.79 239.66,481.38 235.61,479.00 231.55,481.38 232.56,476.79 229.04,473.67 233.73,473.21" fill="#5e4c12" stroke="#5e4c12" stroke-width="0.5" stroke-linejoin="miter"/><circle cx="235.61" cy="475.80" r="4.20" fill="#b2b23c" stroke="#5e4c12" stroke-width="0.9"/>
<text x="242.01" y="479.10" font-size="9.5" fill="#222">6:37am</text>
<polygon points="312.06,468.90 313.94,473.21 318.62,473.67 315.10,476.79 316.11,481.38 312.06,479.00 308.00,481.38 309.01,476.79 305.49,473.67 310.17,473.21" fill="#5e4c12" stroke="#5e4c12" stroke-width="0.5" stroke-linejoin="miter"/><circle cx="312.06" cy="475.80" r="4.20" fill="#b2b23c" stroke="#5e4c12" stroke-width="0.9"/>
<text x="318.46" y="479.10" font-size="9.5" fill="#222">6:35am</text>
<polygon points="388.56,468.90 390.44,473.21 395.12,473.67 391.60,476.79 392.61,481.38 388.56,479.00 384.50,481.38 385.51,476.79 381.99,473.67 386.68,473.21" fill="#5e4c12" stroke="#5e4c12" stroke-width="0.5" stroke-linejoin="miter"/><circle cx="388.56" cy="475.80" r="4.20" fill="#b2b23c" stroke="#5e4c12" stroke-width="0.9"/>
<text x="394.96" y="479.10" font-size="9.5" fill="#222">6:34am</text>
<polygon points="465.06,468.90 466.94,473.21 471.62,473.67 468.10,476.79 469.11,481.38 465.06,479.00 461.00,481.38 462.02,476.79 458.50,473.67 463.18,473.21" fill="#5e4c12" stroke="#5e4c12" stroke-width="0.5" stroke-linejoin="miter"/><circle cx="465.06" cy="475.80" r="4.20" fill="#b2b23c" stroke="#5e4c12" stroke-width="0.9"/>
<text x="471.46" y="479.10" font-size="9.5" fill="#222">6:33am</text>
<polygon points="541.56,468.90 543.44,473.21 548.12,473.67 544.60,476.79 545.62,481.38 541.56,479.00 537.51,481.38 538.52,476.79 535.00,473.67 539.68,473.21" fill="#5e4c12" stroke="#5e4c12" stroke-width="0.5" stroke-linejoin="miter"/><circle cx="541.56" cy="475.80" r="4.20" fill="#b2b23c" stroke="#5e4c12" stroke-width="0.9"/>
<text x="547.96" y="479.10" font-size="9.5" fill="#222">6:32am</text>
<polygon points="618.06,468.90 619.94,473.21 624.63,473.67 621.11,476.79 622.12,481.38 618.06,479.00 614.01,481.38 615.02,476.79 611.50,473.67 616.18,473.21" fill="#5e4c12" stroke="#5e4c12" stroke-width="0.5" stroke-linejoin="miter"/><circle cx="618.06" cy="475.80" r="4.20" fill="#b2b23c" stroke="#5e4c12" stroke-width="0.9"/>
<text x="624.46" y="479.10" font-size="9.5" fill="#222">6:31am</text>
<polygon points="694.57,468.90 696.45,473.21 701.13,473.67 697.61,476.79 698.62,481.38 694.57,479.00 690.51,481.38 691.52,476.79 688.00,473.67 692.68,473.21" fill="#5e4c12" stroke="#5e4c12" stroke-width="0.5" stroke-linejoin="miter"/><circle cx="694.57" cy="475.80" r="4.20" fill="#b2b23c" stroke="#5e4c12" stroke-width="0.9"/>
<text x="700.97" y="479.10" font-size="9.5" fill="#222">6:30am</text>
<polygon points="117.90,482.30 119.78,486.61 124.46,487.07 120.95,490.19 121.96,494.78 117.90,492.40 113.85,494.78 114.86,490.19 111.34,487.07 116.02,486.61" fill="#5e4c12" stroke="#5e4c12" stroke-width="0.5" stroke-linejoin="miter"/><circle cx="117.90" cy="489.20" r="4.20" fill="#d87a2e" stroke="#5e4c12" stroke-width="0.9"/>
<text x="124.70" y="493.20" font-size="9.5" fill="#222">5:43pm</text>
<polygon points="194.51,482.30 196.39,486.61 201.07,487.07 197.55,490.19 198.57,494.78 194.51,492.40 190.46,494.78 191.47,490.19 187.95,487.07 192.63,486.61" fill="#5e4c12" stroke="#5e4c12" stroke-width="0.5" stroke-linejoin="miter"/><circle cx="194.51" cy="489.20" r="4.20" fill="#d87a2e" stroke="#5e4c12" stroke-width="0.9"/>
<text x="201.31" y="493.20" font-size="9.5" fill="#222">5:44pm</text>
<polygon points="271.12,482.30 273.00,486.61 277.68,487.07 274.16,490.19 275.18,494.78 271.12,492.40 267.06,494.78 268.08,490.19 264.56,487.07 269.24,486.61" fill="#5e4c12" stroke="#5e4c12" stroke-width="0.5" stroke-linejoin="miter"/><circle cx="271.12" cy="489.20" r="4.20" fill="#d87a2e" stroke="#5e4c12" stroke-width="0.9"/>
<text x="277.92" y="493.20" font-size="9.5" fill="#222">5:45pm</text>
<polygon points="347.67,482.30 349.56,486.61 354.24,487.07 350.72,490.19 351.73,494.78 347.67,492.40 343.62,494.78 344.63,490.19 341.11,487.07 345.79,486.61" fill="#5e4c12" stroke="#5e4c12" stroke-width="0.5" stroke-linejoin="miter"/><circle cx="347.67" cy="489.20" r="4.20" fill="#d87a2e" stroke="#5e4c12" stroke-width="0.9"/>
<text x="354.47" y="493.20" font-size="9.5" fill="#222">5:45pm</text>
<polygon points="424.28,482.30 426.16,486.61 430.85,487.07 427.33,490.19 428.34,494.78 424.28,492.40 420.23,494.78 421.24,490.19 417.72,487.07 422.40,486.61" fill="#5e4c12" stroke="#5e4c12" stroke-width="0.5" stroke-linejoin="miter"/><circle cx="424.28" cy="489.20" r="4.20" fill="#d87a2e" stroke="#5e4c12" stroke-width="0.9"/>
<text x="431.08" y="493.20" font-size="9.5" fill="#222">5:46pm</text>
<polygon points="500.89,482.30 502.77,486.61 507.45,487.07 503.93,490.19 504.95,494.78 500.89,492.40 496.84,494.78 497.85,490.19 494.33,487.07 499.01,486.61" fill="#5e4c12" stroke="#5e4c12" stroke-width="0.5" stroke-linejoin="miter"/><circle cx="500.89" cy="489.20" r="4.20" fill="#d87a2e" stroke="#5e4c12" stroke-width="0.9"/>
<text x="507.69" y="493.20" font-size="9.5" fill="#222">5:47pm</text>
<polygon points="577.50,482.30 579.38,486.61 584.06,487.07 580.54,490.19 581.56,494.78 577.50,492.40 573.44,494.78 574.46,490.19 570.94,487.07 575.62,486.61" fill="#5e4c12" stroke="#5e4c12" stroke-width="0.5" stroke-linejoin="miter"/><circle cx="577.50" cy="489.20" r="4.20" fill="#d87a2e" stroke="#5e4c12" stroke-width="0.9"/>
<text x="584.30" y="493.20" font-size="9.5" fill="#222">5:48pm</text>
<polygon points="654.11,482.30 655.99,486.61 660.67,487.07 657.15,490.19 658.16,494.78 654.11,492.40 650.05,494.78 651.06,490.19 647.55,487.07 652.23,486.61" fill="#5e4c12" stroke="#5e4c12" stroke-width="0.5" stroke-linejoin="miter"/><circle cx="654.11" cy="489.20" r="4.20" fill="#d87a2e" stroke="#5e4c12" stroke-width="0.9"/>
<text x="660.91" y="493.20" font-size="9.5" fill="#222">5:49pm</text>
<circle cx="180.26" cy="502.80" r="4.95" fill="#ffffcc" stroke="#8c8a80" stroke-width="1"/>
<text x="187.46" y="507.30" font-size="9.5" fill="#222">1:16pm</text>
<circle cx="259.96" cy="502.80" r="4.95" fill="#ffffcc" stroke="#8c8a80" stroke-width="1"/>
<text x="267.16" y="507.30" font-size="9.5" fill="#222">2:15pm</text>
<circle cx="339.75" cy="502.80" r="4.95" fill="#ffffcc" stroke="#8c8a80" stroke-width="1"/>
<text x="346.95" y="507.30" font-size="9.5" fill="#222">3:16pm</text>
<circle cx="419.50" cy="502.80" r="4.95" fill="#ffffcc" stroke="#8c8a80" stroke-width="1"/>
<text x="426.70" y="507.30" font-size="9.5" fill="#222">4:16pm</text>
<circle cx="499.14" cy="502.80" r="4.95" fill="#ffffcc" stroke="#8c8a80" stroke-width="1"/>
<text x="506.34" y="507.30" font-size="9.5" fill="#222">5:14pm</text>
<circle cx="578.72" cy="502.80" r="4.95" fill="#ffffcc" stroke="#8c8a80" stroke-width="1"/>
<text x="585.92" y="507.30" font-size="9.5" fill="#222">6:11pm</text>
<circle cx="658.25" cy="502.80" r="4.95" fill="#ffffcc" stroke="#8c8a80" stroke-width="1"/>
<text x="665.45" y="507.30" font-size="9.5" fill="#222">7:07pm</text>
<circle cx="150.01" cy="516.50" r="4.75" fill="#c6c6b8" stroke="#747470" stroke-width="1"/>
<text x="157.21" y="520.00" font-size="9.5" fill="#222">3:47am</text>
<circle cx="229.23" cy="516.50" r="4.75" fill="#c6c6b8" stroke="#747470" stroke-width="1"/>
<text x="236.43" y="520.00" font-size="9.5" fill="#222">4:37am</text>
<circle cx="308.01" cy="516.50" r="4.75" fill="#c6c6b8" stroke="#747470" stroke-width="1"/>
<text x="315.21" y="520.00" font-size="9.5" fill="#222">5:19am</text>
<circle cx="386.48" cy="516.50" r="4.75" fill="#c6c6b8" stroke="#747470" stroke-width="1"/>
<text x="393.68" y="520.00" font-size="9.5" fill="#222">5:55am</text>
<circle cx="464.69" cy="516.50" r="4.75" fill="#c6c6b8" stroke="#747470" stroke-width="1"/>
<text x="471.89" y="520.00" font-size="9.5" fill="#222">6:26am</text>
<circle cx="542.62" cy="516.50" r="4.75" fill="#c6c6b8" stroke="#747470" stroke-width="1"/>
<text x="549.82" y="520.00" font-size="9.5" fill="#222">6:52am</text>
<circle cx="620.51" cy="516.50" r="4.75" fill="#c6c6b8" stroke="#747470" stroke-width="1"/>
<text x="627.71" y="520.00" font-size="9.5" fill="#222">7:17am</text>
<circle cx="698.29" cy="516.50" r="4.75" fill="#c6c6b8" stroke="#747470" stroke-width="1"/>
<text x="705.49" y="520.00" font-size="9.5" fill="#222">7:40am</text>
<text x="531.93" y="533.2" font-size="9.6" text-anchor="end" fill="#222">Full Moon</text>
<text x="535.13" y="533.2" font-size="9.5" text-anchor="middle" fill="#222">|</text>
<text x="538.53" y="533.2" font-size="9.6" fill="#222">4:31am</text>
</svg></body></html>
